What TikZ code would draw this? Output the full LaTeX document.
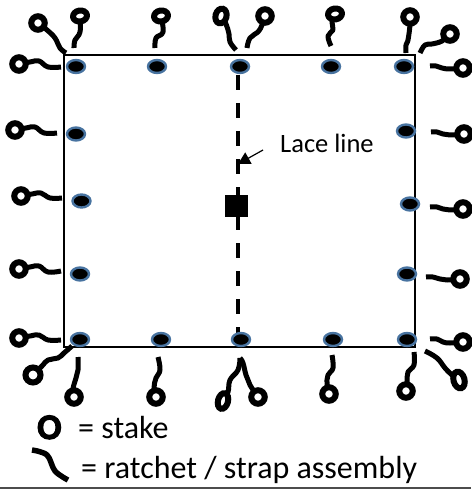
\documentclass[tikz,border=0pt]{standalone}
\usepackage{fontspec}
\setmainfont{Carlito}
\newfontfamily\heavyfont[FakeBold=3]{Carlito Bold}
\usetikzlibrary{shapes.geometric,arrows.meta}
\tikzset{
  strapline/.style={line width=5pt,black,line cap=butt,line join=round},
  ringnode/.style={ellipse,draw=black,fill=white,line width=6pt,inner sep=0pt,minimum width=13.5pt,minimum height=13.5pt},
  anchorpt/.style={ellipse,draw={rgb,255:red,72;green,115;blue,160},fill=black,line width=2.4pt,inner sep=0pt,minimum width=18pt,minimum height=13pt},
  frameline/.style={line width=2pt,black},
  laceline/.style={line width=4.5pt,black,dash pattern=on 15pt off 13pt},
  labeltext/.style={inner sep=0pt,anchor=base west,text=black}
}
% name, ring position, ring options, remaining points of the strap
\newcommand{\strapat}[4]{%
  \draw[strapline] plot[smooth,tension=0.7] coordinates {(#2) #4};
  \node[ringnode,#3] (#1) at (#2) {};
}
\begin{document}
\begin{tikzpicture}[x=1pt,y=-1pt]
\useasboundingbox (0,0) rectangle (471,489);
\draw[frameline] (64,55) rectangle (415,347);
\coordinate (lacetop) at (238,75);
\coordinate (lacebot) at (238,338);
\draw[laceline] (lacetop) -- (lacebot);
\node[fill=black,inner sep=0pt,minimum width=23pt,minimum height=22pt] (clamp) at (236.5,206) {};
% anchor points
\foreach \n/\p in {a1/{76,66.5},a2/{157,66.5},a3/{240,66.5},a4/{331,66.5},a5/{404,66.5},
  b1/{76,134},b2/{81.5,201},b3/{80,274},b4/{80,339.5},
  c1/{161,339.5},c2/{241,339.5},c3/{333,339.5},c4/{407,339.5},
  d1/{406,131},d2/{410,204},d3/{407,274}}
  \node[anchorpt] (\n) at (\p) {};
% left
\strapat{l1}{19,64}{}{(30,62) (39,61) (48,67) (61,67)}
\strapat{l2}{15,130}{}{(26,128) (35,127) (44,133) (57,133)}
\strapat{l3}{21,196}{}{(32,194) (41,193) (50,198) (62,198)}
\strapat{l4}{19,269}{}{(30,267) (39,266) (48,272) (61,271)}
\strapat{l5}{19,338}{}{(30,336) (39,335) (48,340) (61,340)}
% right
\strapat{r1}{463,68}{}{(450,69) (442,68) (436,66) (430,66)}
\strapat{r2}{464,134}{}{(450,135) (443,134) (437,132) (431,132)}
\strapat{r3}{463,209}{}{(450,210) (443,209) (437,207) (430,207)}
\strapat{r4}{460,279}{}{(447,280) (440,279) (433,277) (426,277)}
\strapat{r5}{463,342}{}{(450,343) (443,342) (437,339) (430,339)}
% top
\strapat{t1}{80,16}{minimum height=11pt,minimum width=14pt,rotate=10}{(80,32) (75,40) (74,48)}
\strapat{t2}{161,16}{minimum height=11pt,minimum width=14pt,rotate=10}{(163,32) (156,38) (155,48)}
\strapat{t3}{221,16}{minimum width=11pt,minimum height=15pt,rotate=-15}{(226,24) (229,34) (230,42) (236,50)}
\strapat{t4}{265,16}{}{(262,25) (258,32) (250,38) (247,48)}
\strapat{t5}{335,14}{minimum height=11pt,minimum width=14pt,rotate=10}{(332,22) (333,30) (328,36) (331,46)}
\strapat{t6}{410,17}{}{(410,25) (408,40) (406,45) (406,53)}
\strapat{tl}{38,23}{}{(47,30) (55,38) (60,48) (66,53)}
\strapat{tr}{450,34}{}{(442,41) (432,44) (425,45) (420,53)}
% bottom
\strapat{u1}{74,397}{}{(73,389) (76,378) (78,370) (78,357)}
\strapat{u2}{156,397}{}{(154,388) (156,378) (160,370) (158,357)}
\strapat{u3}{223,401}{minimum width=10pt,minimum height=16pt,rotate=-15}{(228,392) (230,380) (238,370) (240,358)}
\strapat{u4}{258,397}{}{(250,385) (246,375) (243,363) (240,358)}
\strapat{u5}{329,394}{}{(327,385) (328,375) (333,368) (332,355)}
\strapat{u6}{406,391}{}{(407,382) (408,372) (414,365) (414,352)}
\strapat{bl}{33,375}{minimum width=15pt,minimum height=15pt}{(42,366) (48,360) (58,358) (64,353) (72,346)}
\strapat{br}{459,380}{minimum width=11pt,minimum height=17pt,rotate=15}{(452,375) (445,368) (437,358) (425,351)}
% lace line label and pointer
\node[labeltext,font=\fontsize{26.5}{30}\selectfont] (lacelabel) at (280,153) {Lace line};
\coordinate (lacetip) at (238,164);
\coordinate (lacefrom) at (263,150);
\draw[line width=1.2pt,-{Triangle[length=12pt,width=13pt]}] (lacefrom) -- (lacetip);
% legend
\node[labeltext,font=\heavyfont\fontsize{36}{40}\selectfont] (legO) at (37,439) {O};
\node[labeltext,font=\fontsize{32}{36}\selectfont] (leg1) at (78,438) {= stake};
\coordinate (w1) at (32,450);
\coordinate (w2) at (68,480);
\draw[line width=5.5pt] plot[smooth,tension=0.6] coordinates {(w1) (47,455) (55,471) (w2)};
\node[labeltext,font=\fontsize{32}{36}\selectfont] (leg2) at (81,478) {= ratchet / strap assembly};
\coordinate (ruleL) at (0,488);
\coordinate (ruleR) at (471,488);
\draw[line width=1.2pt,black!70] (ruleL) -- (ruleR);
\end{tikzpicture}
\end{document}
